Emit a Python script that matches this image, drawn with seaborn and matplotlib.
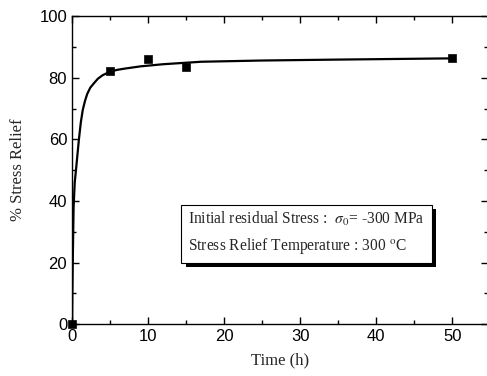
import numpy as np
import pandas as pd
import seaborn as sns
import matplotlib.pyplot as plt
from matplotlib import patheffects as pe
from matplotlib.ticker import MultipleLocator

# measured points
time_pts = [0, 5, 10, 15, 50]
relief_pts = [0, 82.2, 86.2, 83.4, 86.4]

# fitted curve
time_fit = [0, 0.05, 0.1, 0.2, 0.35, 0.55, 0.9, 1.15, 1.4, 1.7, 2.0, 2.4, 2.9, 3.4, 4.0,
            5, 6, 7, 9, 12, 17, 25, 35, 50]
relief_fit = [0, 12, 22, 38, 46, 51, 60, 65.5, 69.5, 72.5, 74.8, 76.8, 78.3, 79.7, 80.8,
              82.0, 82.6, 83.0, 83.7, 84.4, 85.2, 85.6, 85.9, 86.3]

pts = pd.DataFrame({'t': time_pts, 'r': relief_pts})
fit = pd.DataFrame({'t': time_fit, 'r': relief_fit})

sns.set_style('ticks')
plt.rcParams['mathtext.fontset'] = 'stix'

fig = plt.figure(figsize=(4.87, 3.76), dpi=100)
ax = fig.add_axes([0.148, 0.138, 0.854, 0.819])

sns.lineplot(data=fit, x='t', y='r', ax=ax, color='black', lw=1.6)
sns.scatterplot(data=pts, x='t', y='r', ax=ax, color='black', marker='s',
                s=36, edgecolor='black', zorder=5, clip_on=False)

ax.set_xlim(0, 54.7)
ax.set_ylim(0, 100)
ax.xaxis.set_major_locator(MultipleLocator(10))
ax.xaxis.set_minor_locator(MultipleLocator(5))
ax.yaxis.set_major_locator(MultipleLocator(20))
ax.yaxis.set_minor_locator(MultipleLocator(10))
ax.tick_params(which='both', direction='in', top=True, right=True,
               labelsize=12, width=1, color='black', labelcolor='black')
ax.tick_params(which='major', length=5)
ax.tick_params(which='minor', length=3)
for lab in ax.get_xticklabels() + ax.get_yticklabels():
    lab.set_fontfamily('Liberation Sans')
for s in ax.spines.values():
    s.set_color('black')
    s.set_linewidth(1)

ax.set_xlabel('Time (h)', family='Liberation Serif', fontsize=12, labelpad=6)
ax.set_ylabel('% Stress Relief', family='Liberation Serif', fontsize=12, labelpad=10)

txt = ax.text(15.3, 29.6,
              'Initial residual Stress :  $\\sigma_0$= -300 MPa\n'
              'Stress Relief Temperature : 300 $^{\\mathrm{o}}$C',
              family='Liberation Serif', fontsize=11.2, va='center', ha='left',
              linespacing=1.6,
              bbox=dict(boxstyle='square,pad=0.45', fc='white', ec='black', lw=0.8))
txt.get_bbox_patch().set_path_effects(
    [pe.withSimplePatchShadow(offset=(3, -3), shadow_rgbFace='black', alpha=1)])

fig.savefig('out.png', dpi=100)
